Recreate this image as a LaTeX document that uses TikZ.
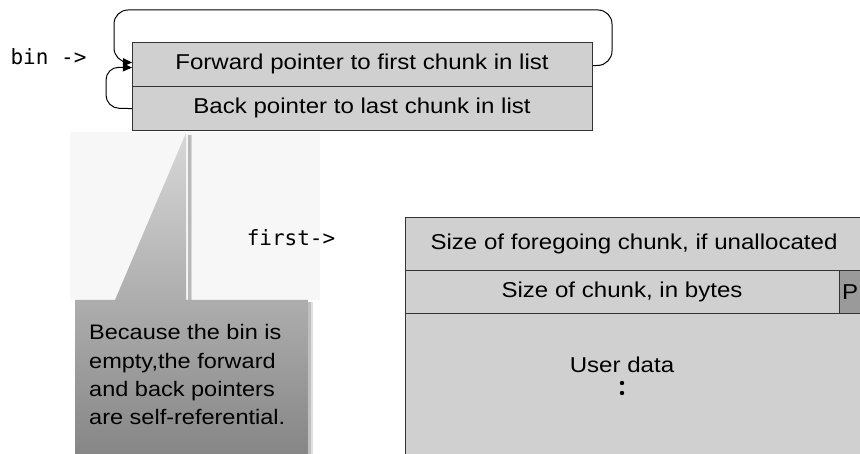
\documentclass[tikz,border=0pt]{standalone}
\usepackage{fontspec}
\setmainfont[FakeStretch=1.12]{Liberation Sans}
\newfontfamily\monofnt{DejaVu Sans Mono}
\usetikzlibrary{arrows.meta,calc}
\definecolor{cellgray}{HTML}{D0D0D0}
\definecolor{pgray}{HTML}{9A9A9A}
\definecolor{edgegray}{HTML}{333333}
\definecolor{calltop}{HTML}{D8D8D8}
\definecolor{callbot}{HTML}{848484}
\tikzset{
  cell/.style={draw=edgegray, line width=1.2pt, fill=cellgray, inner sep=0pt, anchor=north west},
  celltext/.style={font=\fontsize{21.5}{25}\selectfont, inner sep=0pt},
  monolabel/.style={font=\monofnt\fontsize{21}{24}\selectfont, inner sep=0pt},
  link/.style={draw=black, line width=1pt, -{Triangle[length=9pt,width=8pt]}},
}
\begin{document}
\begin{tikzpicture}[x=1pt,y=1pt]
\useasboundingbox (0,0) rectangle (860,453);
\clip (0,0) rectangle (860,453);
% faint background behind callout pointer
\fill[black!3] (70,321) rectangle (320,153);
% top bin box
\node[cell, minimum width=460pt, minimum height=44pt] (fwd) at (132,411) {};
\node[cell, minimum width=460pt, minimum height=44pt] (back) at (132,367) {};
\node[celltext] (fwdt) at (362,389) {Forward pointer to first chunk in list};
\node[celltext] (backt) at (362,345) {Back pointer to last chunk in list};
% labels
\node[monolabel] (bin) at (48.5,396) {bin ->};
\node[monolabel] (first) at (291,215) {first->};
% self-referential connectors
\draw[link, rounded corners=14pt] ($(fwd.east)+(0,-1)$) -- (612,388) -- (612,443) -- (114,443) -- (114,391) -- ($(fwd.west)+(0,2)$);
\draw[link, rounded corners=13pt] (back.west) -- (106,345) -- (106,386) -- ($(fwd.west)+(0,-3)$);
% chunk box
\node[cell, minimum width=470pt, minimum height=53pt] (prev) at (405,236) {};
\node[cell, minimum width=434pt, minimum height=43pt] (size) at (405,183) {};
\node[cell, fill=pgray, minimum width=40pt, minimum height=43pt] (pbit) at (839,183) {};
\node[cell, minimum width=470pt, minimum height=160pt] (user) at (405,140) {};
\node[celltext] (prevt) at (634,209) {Size of foregoing chunk, if unallocated};
\node[celltext] (sizet) at (622,161) {Size of chunk, in bytes};
\node[celltext, anchor=west] (pt) at (842,161) {P};
\node[celltext] (usert) at (622,88) {User data};
\fill (622,70) circle (2.2pt) (622,60) circle (2.2pt);
% callout
\fill[black, opacity=0.25] (187.5,318) rectangle (190.5,153);
\fill[black, opacity=0.12] (190.5,318) rectangle (192,153);
\fill[black, opacity=0.25] (308,151) rectangle (311,-10);
\fill[black, opacity=0.12] (311,151) rectangle (312.5,-10);
\shade[top color=calltop, bottom color=callbot] (75,-10) -- (75,153) -- (115,153) -- (186,320) -- (186,153) -- (308,153) -- (308,-10) -- cycle;
\node[font=\fontsize{21}{28.3}\selectfont, align=left, inner sep=0pt, anchor=north west] (note) at (89,128.5)
  {Because the bin is\\empty,the forward\\and back pointers\\are self-referential.};
\end{tikzpicture}
\end{document}
